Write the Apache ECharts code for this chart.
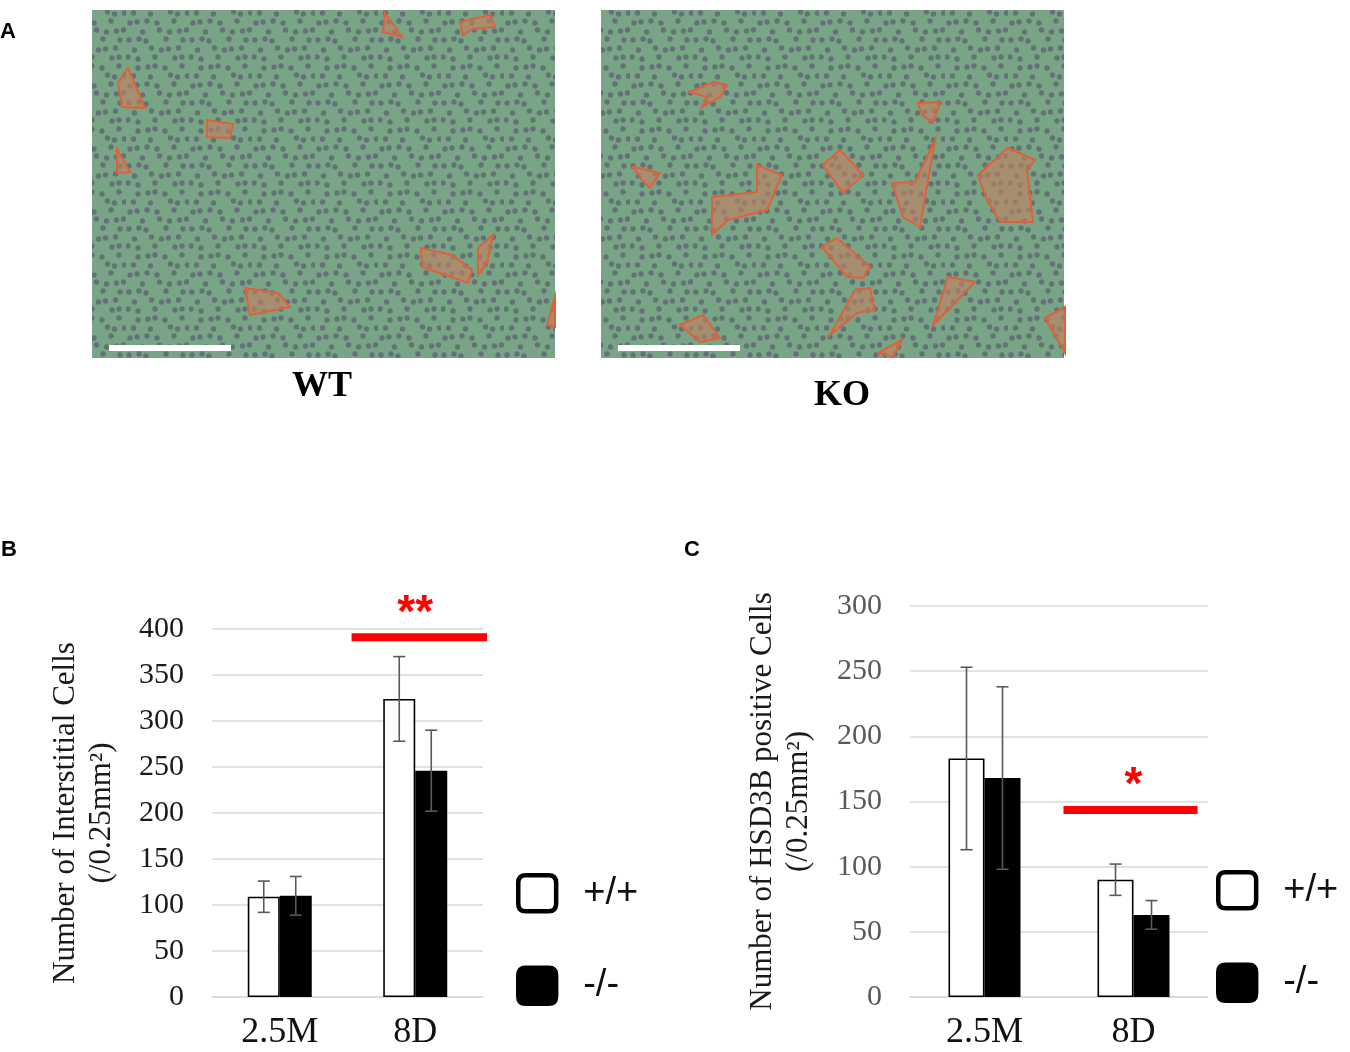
<!DOCTYPE html>
<html lang="en">

<head>
  <meta charset="UTF-8">
  <title>Interstitial and HSD3B positive cells</title>
  <script src="https://cdn.jsdelivr.net/npm/echarts@6/dist/echarts.min.js"></script>
  <style>
    html, body {
      margin: 0;
      padding: 0;
      background: #fff;
    }
    #chart {
      width: 1350px;
      height: 1052px;
    }
  </style>
</head>

<body>
  <div id="chart"></div>

  <script>
    // data
    const categories = ['2.5M', '8D']
    const genotypes = ['+/+', '-/-']

    const interstitialWT = [109, 324]
    const interstitialWTErr = [17, 46]
    const interstitialKO = [110, 246]
    const interstitialKOErr = [21, 44]

    const hsd3bWT = [183, 90]
    const hsd3bWTErr = [70, 12]
    const hsd3bKO = [168, 63]
    const hsd3bKOErr = [70, 11]

    // significance bars: [category index, value, stars]
    const sigInterstitial = [[1, 391, '**']]
    const sigHsd3b = [[1, 143.5, '*']]

    const ticksInterstitial = { min: 0, max: 400, interval: 50 }
    const ticksHsd3b = { min: 0, max: 300, interval: 50 }

    const serif = 'Liberation Serif'
    const sans = 'Liberation Sans'

    // decorative shapes for the micrographs in panel A
    const wtRegions = [
      [[385, 13], [402, 37], [383, 32]],
      [[460, 22], [490, 15], [495, 27], [473, 29], [463, 35]],
      [[128, 68], [145, 108], [122, 107], [118, 83]],
      [[207, 120], [233, 124], [230, 138], [207, 137]],
      [[117, 149], [130, 172], [117, 173]],
      [[421, 248], [452, 255], [472, 270], [468, 283], [422, 267]],
      [[493, 235], [487, 263], [478, 275], [478, 248]],
      [[245, 288], [278, 293], [290, 307], [250, 315]],
      [[555, 297], [547, 325], [555, 327]]
    ]
    const koRegions = [
      [[690, 92], [713, 82], [727, 85], [720, 97], [702, 107], [707, 97]],
      [[918, 103], [940, 102], [933, 123], [922, 115]],
      [[633, 167], [660, 173], [650, 188], [642, 180]],
      [[712, 197], [757, 192], [757, 165], [782, 175], [767, 210], [728, 220], [712, 235]],
      [[823, 165], [840, 150], [863, 175], [843, 193]],
      [[892, 183], [915, 182], [935, 140], [920, 227], [903, 217]],
      [[978, 175], [1008, 148], [1035, 160], [1027, 170], [1033, 222], [1000, 222], [987, 200]],
      [[822, 247], [837, 238], [870, 267], [863, 278], [847, 277]],
      [[855, 290], [870, 288], [875, 310], [857, 313], [830, 335]],
      [[948, 277], [975, 282], [933, 325]],
      [[680, 325], [703, 315], [720, 338], [700, 342]],
      [[878, 353], [902, 340], [893, 357]],
      [[1065, 307], [1065, 353], [1045, 318]]
    ]

    // tissue-like texture: green background with a sprinkle of nuclei
    function tissuePattern() {
      const c = document.createElement('canvas')
      c.width = 63
      c.height = 63
      const ctx = c.getContext('2d')
      ctx.fillStyle = '#78a585'
      ctx.fillRect(0, 0, 63, 63)
      ctx.fillStyle = 'rgba(86,80,112,0.6)'
      for (let j = 0; j < 7; j++) {
        for (let i = 0; i < 7; i++) {
          if ((i * 3 + j * 5) % 7 < 2) continue
          const x = i * 9 + (j % 2) * 4.5 + 2 + ((i + j) % 3)
          const y = j * 9 + 3 + ((i * 2 + j) % 3)
          ctx.beginPath()
          ctx.arc(x, y, 2.7, 0, Math.PI * 2)
          ctx.fill()
        }
      }
      return c
    }
    const tissue = tissuePattern()

    function regionShapes(list) {
      return list.map(pts => ({
        type: 'polygon',
        shape: { points: pts },
        style: { fill: 'rgba(196,128,96,0.6)', stroke: '#e0603a', lineWidth: 2 }
      }))
    }

    function micrograph(x, label, labelX, labelY, regions) {
      return [
        {
          type: 'rect',
          shape: { x: x, y: 10, width: 463, height: 348 },
          style: { fill: { image: tissue, repeat: 'repeat' } }
        },
        ...regionShapes(regions),
        {
          type: 'rect',
          shape: { x: x + 17, y: 345, width: 122, height: 6 },
          style: { fill: '#fff' }
        },
        {
          type: 'text',
          x: labelX,
          y: labelY,
          style: {
            text: label,
            font: 'bold 36px ' + serif,
            fill: '#000',
            align: 'center',
            verticalAlign: 'middle'
          }
        }
      ]
    }

    function panelLetter(text, x, y) {
      return {
        type: 'text',
        x: x,
        y: y,
        style: { text: text, font: 'bold 22px ' + sans, fill: '#000', verticalAlign: 'middle' }
      }
    }

    function errorSeries(name, idx, values, errs, sign, bw) {
      return {
        type: 'custom',
        name: name,
        xAxisIndex: idx,
        yAxisIndex: idx,
        z: 5,
        silent: true,
        data: values.map((v, i) => [i, v, errs[i]]),
        renderItem: function (params, api) {
          const v = api.value(1)
          const e = api.value(2)
          const top = api.coord([api.value(0), v + e])
          const bot = api.coord([api.value(0), v - e])
          const x = top[0] + sign * bw / 2
          const cap = 6
          const style = { stroke: '#595959', lineWidth: 1.6 }
          return {
            type: 'group',
            children: [
              { type: 'line', shape: { x1: x, y1: top[1], x2: x, y2: bot[1] }, style: style },
              { type: 'line', shape: { x1: x - cap, y1: top[1], x2: x + cap, y2: top[1] }, style: style },
              { type: 'line', shape: { x1: x - cap, y1: bot[1], x2: x + cap, y2: bot[1] }, style: style }
            ]
          }
        }
      }
    }

    function sigSeries(idx, data, from, to, starGap) {
      return {
        type: 'custom',
        xAxisIndex: idx,
        yAxisIndex: idx,
        z: 6,
        silent: true,
        data: data,
        renderItem: function (params, api) {
          const p = api.coord([api.value(0), api.value(1)])
          const band = api.size([1, 0])[0]
          const x1 = p[0] + from * band
          const x2 = p[0] + to * band
          return {
            type: 'group',
            children: [
              { type: 'rect', shape: { x: x1, y: p[1] - 4, width: x2 - x1, height: 8 }, style: { fill: '#ff0000' } },
              {
                type: 'text',
                x: p[0],
                y: p[1] - starGap,
                style: {
                  text: data[params.dataIndex][2],
                  font: 'bold 46px ' + sans,
                  fill: '#ff0000',
                  align: 'center',
                  verticalAlign: 'middle'
                }
              }
            ]
          }
        }
      }
    }

    function barSeries(name, idx, values, white, bw) {
      return {
        type: 'bar',
        name: name,
        xAxisIndex: idx,
        yAxisIndex: idx,
        data: values,
        barWidth: bw,
        barGap: '0%',
        itemStyle: {
          color: white ? '#fff' : '#000',
          borderColor: '#000',
          borderWidth: 1.6
        }
      }
    }

    function yAxis(gridIndex, ticks, name, labelColor, nameGap) {
      return {
        type: 'value',
        gridIndex: gridIndex,
        min: ticks.min,
        max: ticks.max,
        interval: ticks.interval,
        name: name,
        nameLocation: 'middle',
        nameRotate: 90,
        nameGap: nameGap,
        nameTextStyle: { fontFamily: serif, fontSize: 31, lineHeight: 36, color: '#1a1a1a' },
        axisLine: { show: false },
        axisTick: { show: false },
        axisLabel: { fontFamily: serif, fontSize: 30, color: labelColor, margin: 28 },
        splitLine: { lineStyle: { color: '#d9d9d9', width: 1.5 } }
      }
    }

    function xAxis(gridIndex) {
      return {
        type: 'category',
        gridIndex: gridIndex,
        data: categories,
        axisLine: { lineStyle: { color: '#d9d9d9', width: 1.5 } },
        axisTick: { show: false },
        axisLabel: { fontFamily: serif, fontSize: 36, color: '#111', margin: 18 }
      }
    }

    function legend(left, top) {
      return {
        left: left,
        top: top,
        padding: 0,
        orient: 'vertical',
        data: genotypes,
        icon: 'path://M8,0H32Q40,0,40,8V30Q40,38,32,38H8Q0,38,0,30V8Q0,0,8,0Z',
        itemWidth: 38,
        itemHeight: 36,
        itemGap: 52,
        selectedMode: false,
        itemStyle: { borderWidth: 4.5 },
        textStyle: { fontFamily: sans, fontSize: 38, color: '#111', padding: [0, 0, 0, 22] }
      }
    }

    const chart = echarts.init(document.getElementById('chart'), null, { renderer: 'canvas' })
    chart.setOption({
      animation: false,
      backgroundColor: '#fff',
      graphic: [
        panelLetter('A', 0, 32),
        panelLetter('B', 1, 550),
        panelLetter('C', 684, 550),
        ...micrograph(92, 'WT', 322, 387, wtRegions),
        ...micrograph(601, 'KO', 842, 396, koRegions)
      ],
      legend: [legend(516, 873), legend(1216, 870)],
      grid: [
        { left: 212, right: 867, top: 629, bottom: 55 },
        { left: 910, right: 142, top: 606, bottom: 55 }
      ],
      xAxis: [xAxis(0), xAxis(1)],
      yAxis: [
        yAxis(0, ticksInterstitial, 'Number of Interstitial Cells\n(/0.25mm²)', '#1a1a1a', 92),
        yAxis(1, ticksHsd3b, 'Number of HSD3B positive Cells\n(/0.25mm²)', '#595959', 93)
      ],
      series: [
        barSeries('+/+', 0, interstitialWT, true, 32),
        barSeries('-/-', 0, interstitialKO, false, 32),
        errorSeries('+/+', 0, interstitialWT, interstitialWTErr, -1, 32),
        errorSeries('-/-', 0, interstitialKO, interstitialKOErr, 1, 32),
        sigSeries(0, sigInterstitial, -0.47, 0.53, 23),
        barSeries('+/+', 1, hsd3bWT, true, 36),
        barSeries('-/-', 1, hsd3bKO, false, 36),
        errorSeries('+/+', 1, hsd3bWT, hsd3bWTErr, -1, 36),
        errorSeries('-/-', 1, hsd3bKO, hsd3bKOErr, 1, 36),
        sigSeries(1, sigHsd3b, -0.47, 0.43, 24)
      ]
    })
  </script>
</body>

</html>
